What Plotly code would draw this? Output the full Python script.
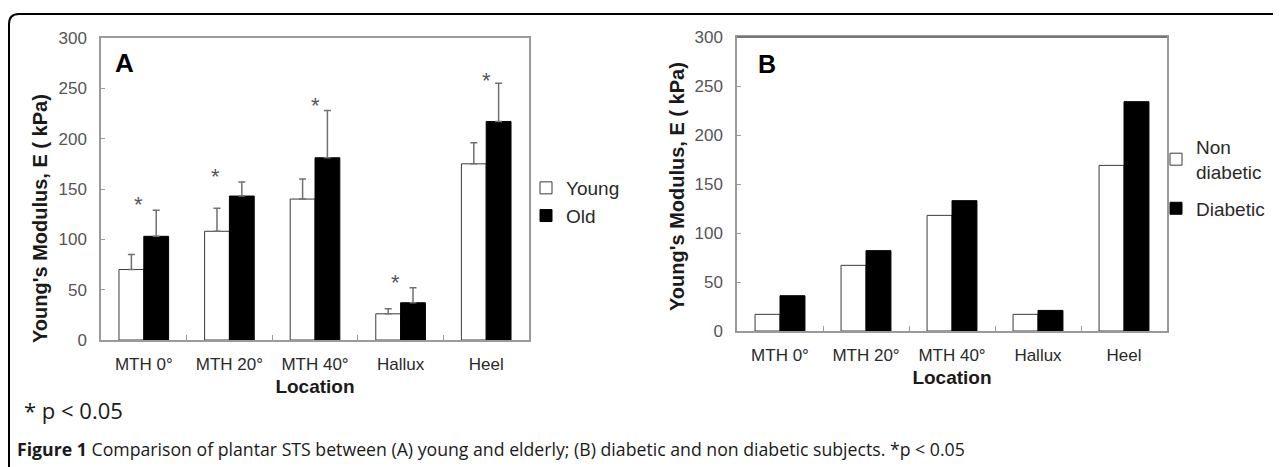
import plotly.graph_objects as go

# ---------------- data ----------------
locations = ["MTH 0°", "MTH 20°", "MTH 40°", "Hallux", "Heel"]
young = [70, 108, 140, 26, 175]
young_err = [15, 23, 20, 5, 21]
old = [103, 143, 181, 37, 217]
old_err = [26, 14, 47, 15, 38]
sig_star_y = [140, 167, 238, 62, 263]
non_diabetic = [17, 67, 118, 17, 169]
diabetic = [36, 82, 133, 21, 234]
y_ticks = [0, 50, 100, 150, 200, 250, 300]

# page body has an 8 px margin: lay out in window pixels, shift by OFF
OFF = 8
W, H = 1281 - OFF, 467 - OFF


def px(x):
    return (x - OFF) / W


def py(y):
    return 1 - (y - OFF) / H


SANS = "Liberation Sans, Arial, sans-serif"
CAP = "Open Sans, Noto Sans, sans-serif"

fig = go.Figure()

err_style = dict(type="data", symmetric=False, color="#707070", thickness=1.5, width=3.5)

fig.add_trace(go.Bar(
    x=locations, y=young, name="Young",
    marker=dict(color="white", line=dict(color="#3a3a3a", width=1)),
    error_y=dict(array=young_err, arrayminus=[0] * len(young), **err_style),
    xaxis="x", yaxis="y", legend="legend",
))
fig.add_trace(go.Bar(
    x=locations, y=old, name="Old",
    marker=dict(color="black", line=dict(color="black", width=1)),
    error_y=dict(array=old_err, arrayminus=[0] * len(old), **err_style),
    xaxis="x", yaxis="y", legend="legend",
))
fig.add_trace(go.Bar(
    x=locations, y=non_diabetic, name="Non<br>diabetic",
    marker=dict(color="white", line=dict(color="#3a3a3a", width=1)),
    xaxis="x2", yaxis="y2", legend="legend2", legendgroup="nd",
))
fig.add_trace(go.Bar(
    x=locations, y=diabetic, name="Diabetic",
    marker=dict(color="black", line=dict(color="black", width=1)),
    xaxis="x2", yaxis="y2", legend="legend2", legendgroup="d",
))

axis_line = dict(showline=True, linecolor="#9a9a9a", linewidth=1.5, mirror=True,
                 showgrid=False, zeroline=False, automargin=False)

xcommon = dict(
    **axis_line, type="category", ticks="inside", tickson="boundaries", ticklen=5,
    tickcolor="#9a9a9a", tickfont=dict(family=SANS, size=17, color="#2a2a2a"),
    ticklabelstandoff=8,
    title=dict(text="<b>Location</b>", font=dict(family=SANS, size=19, color="#1a1a1a"), standoff=7),
)
ycommon = dict(
    **axis_line, range=[0, 300], tickvals=y_ticks, ticks="inside", ticklen=4,
    tickcolor="#9a9a9a", tickfont=dict(family=SANS, size=17, color="#555555"),
    ticklabelstandoff=9,
)

fig.update_layout(
    width=W, height=H,
    margin=dict(l=0, r=0, t=0, b=0, autoexpand=False),
    paper_bgcolor="white", plot_bgcolor="white",
    barmode="group", bargap=0.42, bargroupgap=0,
    xaxis=dict(domain=[px(101), px(529)], anchor="y", **xcommon),
    yaxis=dict(domain=[py(340), py(38)], anchor="x", **ycommon),
    xaxis2=dict(domain=[px(737), px(1167)], anchor="y2", **xcommon),
    yaxis2=dict(domain=[py(331), py(37)], anchor="x2", **ycommon),
    legend=dict(x=px(526), y=py(169), xanchor="left", yanchor="top",
                font=dict(family=SANS, size=19, color="#2a2a2a"),
                bgcolor="rgba(0,0,0,0)", traceorder="normal"),
    legend2=dict(x=px(1156), y=py(128), xanchor="left", yanchor="top",
                 font=dict(family=SANS, size=19, color="#2a2a2a"),
                 bgcolor="rgba(0,0,0,0)", traceorder="grouped", tracegroupgap=9),
    showlegend=True,
)

# y-axis titles
fig.add_annotation(x=px(40), y=py(219), xref="paper", yref="paper",
                   text="<b>Young's Modulus, E ( kPa)</b>", textangle=-90, showarrow=False,
                   xanchor="center", yanchor="middle", font=dict(family=SANS, size=20, color="#1a1a1a"))
fig.add_annotation(x=px(677), y=py(186), xref="paper", yref="paper",
                   text="<b>Young's Modulus, E ( kPa)</b>", textangle=-90, showarrow=False,
                   xanchor="center", yanchor="middle", font=dict(family=SANS, size=20, color="#1a1a1a"))

# significance asterisks (panel A)
star_shift = [-5, -14, 0, -5, 0]
for loc, yv, sh in zip(locations, sig_star_y, star_shift):
    fig.add_annotation(x=loc, y=yv, xref="x", yref="y", text="*", showarrow=False,
                       xshift=sh, yshift=-5, font=dict(family=SANS, size=22, color="#555555"))

# panel letters
fig.add_annotation(x=px(113), y=py(63), xref="paper", yref="paper", text="<b>A</b>",
                   showarrow=False, xanchor="left", yanchor="middle",
                   font=dict(family=SANS, size=26, color="black"))
fig.add_annotation(x=px(756), y=py(64), xref="paper", yref="paper", text="<b>B</b>",
                   showarrow=False, xanchor="left", yanchor="middle",
                   font=dict(family=SANS, size=25, color="black"))

# footnote and caption
fig.add_annotation(x=px(22), y=py(410), xref="paper", yref="paper", text="* p < 0.05",
                   showarrow=False, xanchor="left", yanchor="middle",
                   font=dict(family=CAP, size=22, color="#1a1a1a"))
fig.add_annotation(x=px(15), y=py(449), xref="paper", yref="paper",
                   text="<b>Figure 1</b> Comparison of plantar STS between (A) young and elderly; (B) diabetic and non diabetic subjects. *p < 0.05",
                   showarrow=False, xanchor="left", yanchor="middle",
                   font=dict(family=CAP, size=17.7, color="#1a1a1a"))

# outer article frame (rounded top-left corner, open at bottom and right)
fig.add_shape(type="path", xref="paper", yref="paper",
              path=f"M {px(9)} {py(470)} L {px(9)} {py(24)} Q {px(9)} {py(14)} {px(19)} {py(14)} L {px(1285)} {py(14)}",
              line=dict(color="black", width=2))
# darker top border of panel B
fig.add_shape(type="line", xref="paper", yref="paper",
              x0=px(737), x1=px(1167), y0=py(37), y1=py(37),
              line=dict(color="#777777", width=2))

fig.write_html("out.html")
